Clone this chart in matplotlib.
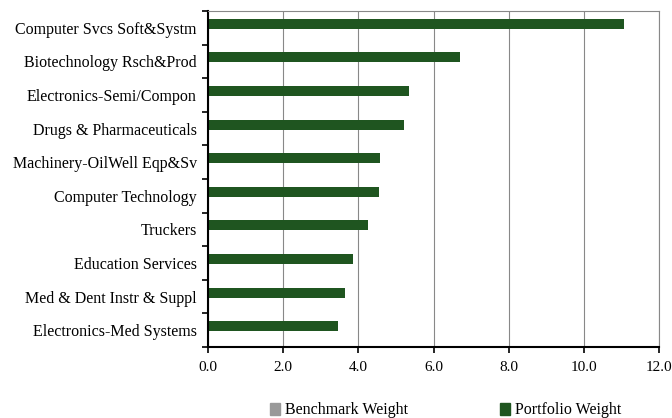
import numpy as np
import matplotlib
matplotlib.use("Agg")
import matplotlib.pyplot as plt
from matplotlib.patches import Patch

categories = [
    "Computer Svcs Soft&Systm",
    "Biotechnology Rsch&Prod",
    "Electronics-Semi/Compon",
    "Drugs & Pharmaceuticals",
    "Machinery-OilWell Eqp&Sv",
    "Computer Technology",
    "Truckers",
    "Education Services",
    "Med & Dent Instr & Suppl",
    "Electronics-Med Systems",
]
portfolio = [11.08, 6.70, 5.35, 5.21, 4.58, 4.56, 4.27, 3.85, 3.64, 3.47]
benchmark = [0, 0, 0, 0, 0, 0, 0, 0, 0, 0]
xticks = [0, 2, 4, 6, 8, 10, 12]

green = "#1f5520"
grey = "#999999"

plt.rcParams["font.family"] = ["Liberation Serif", "DejaVu Serif"]

fig = plt.figure(figsize=(6.72, 4.18), dpi=100)
ax = fig.add_axes([208 / 672, 1 - 347 / 418, 451 / 672, 336 / 418])

y = np.arange(len(categories))
ax.barh(y + 0.17, benchmark, height=0.3, color=grey)
ax.barh(y - 0.12, portfolio, height=0.3, color=green)

ax.set_ylim(len(categories) - 0.5, -0.5)
ax.set_xlim(0, 12)
ax.set_xticks(xticks)
ax.set_xticklabels([f"{v:.1f}" for v in xticks], fontsize=11)
ax.set_yticks(y)
ax.set_yticklabels(categories, fontsize=11.5)
ax.tick_params(axis="y", length=0, pad=8)
ax.set_yticks(np.arange(-0.5, len(categories), 1), minor=True)
ax.tick_params(axis="y", which="minor", length=4, width=1.2, color="black")
ax.tick_params(axis="x", length=4, width=1.2, pad=6)

ax.xaxis.grid(True, color="#888888", linewidth=0.8)
ax.set_axisbelow(True)
ax.spines["left"].set_linewidth(1.5)
ax.spines["bottom"].set_linewidth(1.5)
ax.spines["top"].set_color("#888888")
ax.spines["right"].set_color("#888888")
ax.spines["top"].set_linewidth(0.8)
ax.spines["right"].set_linewidth(0.8)

handles = [Patch(color=grey), Patch(color=green)]
fig.legend(handles, ["Benchmark Weight", "Portfolio Weight"], loc="lower left",
           bbox_to_anchor=(256 / 672, -0.035), ncol=2, frameon=False, fontsize=11.5,
           handlelength=0.6, handleheight=0.8, handletextpad=0.3, columnspacing=5.8)

fig.savefig("out.png", dpi=100)
